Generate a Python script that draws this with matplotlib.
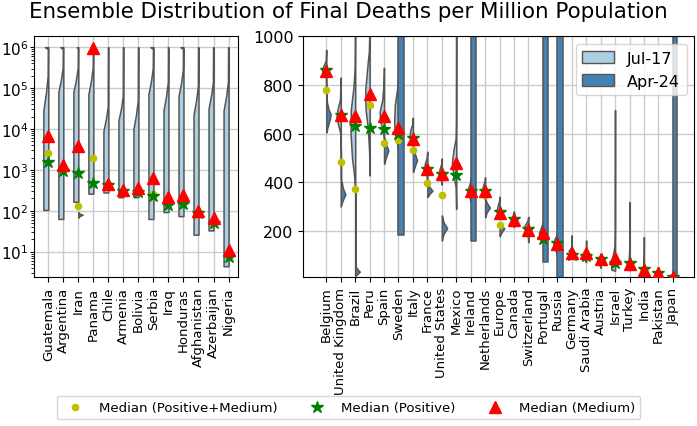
#! /usr/bin/env python3

import matplotlib
matplotlib.use('Agg')
import matplotlib.pyplot as plt
from matplotlib.patches import Patch
from matplotlib.lines import Line2D

LIGHT = "#aecde0"
DARK = "#4581b3"
EDGE = "#555555"

# ---- left panel (log scale) ----
left_countries = ["Guatemala", "Argentina", "Iran", "Panama", "Chile", "Armenia", "Bolivia",
                  "Serbia", "Iraq", "Honduras", "Afghanistan", "Azerbaijan", "Nigeria"]
# Jul-17 violins: lowest value, end of full width (log10), start of thin tail (log10), top hook width
left_min = [105, 63, 166, 262, 280, 215, 215, 63, 93, 74, 26, 33, 4.4]
left_taper_lo = [4.45, 4.9, 4.9, 4.85, 3.95, 4.2, 4.0, 4.85, 4.45, 4.8, 4.35, 4.5, 4.45]
left_taper_hi = [5.3, 5.5, 5.5, 5.5, 4.55, 4.8, 4.7, 5.5, 5.15, 5.45, 5.05, 5.15, 5.15]
left_hook = [0.22, 0.2, 0.1, 0.03, 0.03, 0.03, 0.03, 0.2, 0.05, 0.2, 0.03, 0.03, 0.03]
left_top = 1e6
# Apr-24 half visible only for Iran
iran_apr = [(68, 0.01), (75, 0.1), (80, 0.28), (84, 0.1), (92, 0.01)]

left_med_pm = [2600, 1150, 129, 1940, 440, 305, 320, 258, 160, 190, 95, 55, 8.5]
left_med_pos = [1590, 915, 830, 465, 430, 300, 280, 225, 142, 145, 87, 50, 7.3]
left_med_med = [6600, 1320, 3790, 960000, 455, 318, 360, 630, 214, 240, 100, 66, 11.2]

# ---- right panel (linear scale) ----
right_countries = ["Belgium", "United Kingdom", "Brazil", "Peru", "Spain", "Sweden", "Italy",
                   "France", "United States", "Mexico", "Ireland", "Netherlands", "Europe",
                   "Canada", "Switzerland", "Portugal", "Russia", "Germany", "Saudi Arabia",
                   "Austria", "Israel", "Turkey", "India", "Pakistan", "Japan"]

# (value, half width) outlines
jul17 = {
    "Belgium": [(775, 0.01), (830, 0.03), (845, 0.18), (860, 0.3), (878, 0.2), (900, 0.04), (944, 0.01)],
    "United Kingdom": [(545, 0.01), (600, 0.03), (630, 0.15), (665, 0.3), (700, 0.22), (740, 0.05), (830, 0.01)],
    "Brazil": [(373, 0.01), (420, 0.06), (500, 0.22), (600, 0.32), (700, 0.3), (790, 0.12), (870, 0.03), (1050, 0.01)],
    "Peru": [(428, 0.01), (520, 0.03), (620, 0.12), (700, 0.28), (780, 0.3), (860, 0.18), (940, 0.05), (1050, 0.01)],
    "Spain": [(580, 0.01), (615, 0.06), (650, 0.28), (690, 0.3), (740, 0.12), (800, 0.04), (870, 0.01)],
    "Sweden": [(520, 0.01), (560, 0.1), (600, 0.25), (650, 0.3), (720, 0.25), (790, 0.08), (870, 0.01)],
    "Italy": [(555, 0.01), (575, 0.1), (600, 0.22), (620, 0.15), (640, 0.04), (665, 0.01)],
    "France": [(400, 0.01), (430, 0.06), (455, 0.2), (475, 0.18), (500, 0.05), (525, 0.01)],
    "United States": [(390, 0.01), (415, 0.08), (435, 0.2), (455, 0.15), (475, 0.04), (497, 0.01)],
    "Mexico": [(290, 0.01), (380, 0.04), (430, 0.2), (480, 0.3), (530, 0.2), (580, 0.04), (650, 0.02), (1050, 0.01)],
    "Ireland": [(318, 0.01), (340, 0.08), (360, 0.22), (380, 0.15), (400, 0.04), (420, 0.01)],
    "Netherlands": [(330, 0.01), (345, 0.08), (365, 0.22), (385, 0.15), (405, 0.04), (420, 0.01)],
    "Europe": [(250, 0.01), (265, 0.08), (285, 0.2), (305, 0.12), (325, 0.03), (340, 0.01)],
    "Canada": [(215, 0.01), (230, 0.1), (248, 0.25), (262, 0.1), (280, 0.01)],
    "Switzerland": [(153, 0.01), (180, 0.05), (200, 0.22), (220, 0.28), (240, 0.08), (257, 0.01)],
    "Portugal": [(155, 0.01), (170, 0.12), (190, 0.28), (210, 0.15), (230, 0.03), (240, 0.01)],
    "Russia": [(98, 0.01), (115, 0.1), (140, 0.28), (165, 0.2), (185, 0.04), (200, 0.01)],
    "Germany": [(95, 0.01), (105, 0.12), (118, 0.22), (130, 0.06), (150, 0.02), (181, 0.01)],
    "Saudi Arabia": [(71, 0.01), (85, 0.15), (100, 0.22), (112, 0.08), (130, 0.02), (160, 0.01)],
    "Austria": [(48, 0.01), (65, 0.1), (80, 0.22), (92, 0.06), (103, 0.01)],
    "Israel": [(36, 0.01), (40, 0.25), (70, 0.3), (100, 0.15), (140, 0.03), (200, 0.015), (696, 0.01)],
    "Turkey": [(38, 0.01), (50, 0.15), (65, 0.22), (80, 0.06), (120, 0.02), (318, 0.01)],
    "India": [(22, 0.01), (30, 0.15), (40, 0.2), (55, 0.04), (100, 0.015), (174, 0.01)],
    "Pakistan": [(12, 0.01), (20, 0.15), (28, 0.2), (38, 0.05), (50, 0.01)],
}
apr24 = {
    "Belgium": [(605, 0.01), (625, 0.08), (660, 0.25), (680, 0.3), (700, 0.15), (730, 0.04), (770, 0.01)],
    "United Kingdom": [(300, 0.01), (320, 0.1), (350, 0.32), (375, 0.15), (410, 0.03), (545, 0.01)],
    "Brazil": [(15, 0.01), (22, 0.15), (32, 0.32), (42, 0.15), (55, 0.02), (373, 0.01)],
    "Spain": [(476, 0.01), (500, 0.12), (530, 0.3), (555, 0.15), (580, 0.02)],
    "Sweden": [(181, 0.37), (1100, 0.37)],
    "Italy": [(442, 0.01), (460, 0.1), (490, 0.28), (520, 0.12), (552, 0.01)],
    "France": [(339, 0.01), (350, 0.12), (365, 0.35), (380, 0.15), (398, 0.01)],
    "United States": [(160, 0.01), (185, 0.1), (211, 0.37), (235, 0.12), (263, 0.01)],
    "Ireland": [(160, 0.37), (1100, 0.37)],
    "Netherlands": [(256, 0.01), (275, 0.1), (295, 0.33), (315, 0.12), (330, 0.01)],
    "Europe": [(178, 0.01), (195, 0.15), (210, 0.33), (220, 0.1), (230, 0.01)],
    "Canada": [(220, 0.01), (235, 0.15), (245, 0.2), (255, 0.05), (265, 0.01)],
    "Switzerland": [(180, 0.01), (192, 0.15), (205, 0.2), (215, 0.05), (225, 0.01)],
    "Portugal": [(73, 0.37), (1100, 0.37)],
    "Russia": [(5, 0.37), (1100, 0.37)],
    "Germany": [(92, 0.01), (100, 0.1), (110, 0.05), (118, 0.01)],
    "Japan": [(5, 0.3), (1100, 0.3)],
}

right_med_pm = [777, 483, 373, 717, 562, 575, 531, 398, 346, 465, 358, 346, 222, 244, 203,
                178, 140, 104, 104, 84, 75, 65, 41, 28, 10]
right_med_pos = [862, 678, 630, 621, 618, 600, 580, 455, 434, 428, 364, 365, 277, 247, 206,
                 167, 148, 101, 98, 85, 67, 66, 42, 28, 10]
right_med_med = [858, 677, 673, 762, 671, 623, 579, 453, 432, 479, 362, 362, 275, 245, 204,
                 192, 146, 108, 108, 83, 89, 64, 40, 27, 10]


def draw_half(ax, pos, knots, side, color):
    vals = [k[0] for k in knots]
    widths = [k[1] for k in knots]
    if side == "left":
        xs = [pos - w for w in widths]
    else:
        xs = [pos + w for w in widths]
    ax.fill_betweenx(vals, xs, pos, facecolor=color, edgecolor=EDGE, linewidth=1.1, zorder=2)


def left_knots(i):
    lo = 10 ** left_taper_lo[i]
    hi = 10 ** left_taper_hi[i]
    mid = 10 ** ((left_taper_lo[i] + left_taper_hi[i]) / 2)
    return [(left_min[i], 0.33), (lo, 0.33), (mid, 0.16), (hi, 0.04),
            (0.9 * left_top, 0.03), (left_top, left_hook[i])]


def draw_medians(ax, pm, pos_, med):
    xs = list(range(len(pm)))
    ax.plot(xs, pm, "o", color="y", ms=4.5, ls="none", zorder=4)
    ax.plot(xs, pos_, "*", color="green", ms=9, ls="none", zorder=5)
    ax.plot(xs, med, "^", color="red", ms=8, ls="none", zorder=6)


def style_axis(ax, names, ysize):
    ax.set_xticks(range(len(names)))
    ax.set_xticklabels(names, rotation=90, fontsize=9.5)
    ax.tick_params(axis="y", labelsize=ysize)
    ax.grid(True, color="#cccccc", linewidth=1.0)
    ax.set_axisbelow(True)


if __name__ == "__main__":
    fig = plt.figure(figsize=(6.97, 4.27), dpi=100)
    ax1 = fig.add_axes([0.0488, 0.349, 0.292, 0.5637])
    ax2 = fig.add_axes([0.435, 0.349, 0.5614, 0.5637])

    for i in range(len(left_countries)):
        draw_half(ax1, i, left_knots(i), "left", LIGHT)
    draw_half(ax1, left_countries.index("Iran"), iran_apr, "right", DARK)
    draw_medians(ax1, left_med_pm, left_med_pos, left_med_med)
    ax1.set_yscale("log")
    ax1.set_ylim(2.4, 1.85e6)
    ax1.set_xlim(-0.95, 12.6)
    style_axis(ax1, left_countries, 11)
    ax1.tick_params(axis="y", which="major", length=3, pad=1)
    ax1.tick_params(axis="y", which="minor", length=2)

    for i, name in enumerate(right_countries):
        if name in jul17:
            draw_half(ax2, i, jul17[name], "left", LIGHT)
        if name in apr24:
            draw_half(ax2, i, apr24[name], "right", DARK)
    draw_medians(ax2, right_med_pm, right_med_pos, right_med_med)
    ax2.set_ylim(10, 1000)
    ax2.set_yticks([200, 400, 600, 800, 1000])
    ax2.set_xlim(-1.6, 25.5)
    style_axis(ax2, right_countries, 11.5)

    ax2.legend(handles=[Patch(facecolor=LIGHT, edgecolor=EDGE, label="Jul-17"),
                        Patch(facecolor=DARK, edgecolor=EDGE, label="Apr-24")],
               loc="upper right", fontsize=11.5)

    handles = [Line2D([], [], marker="o", color="y", ls="none", ms=4.5,
                      label="Median (Positive+Medium)"),
               Line2D([], [], marker="*", color="green", ls="none", ms=9,
                      label="Median (Positive)"),
               Line2D([], [], marker="^", color="red", ls="none", ms=8,
                      label="Median (Medium)")]
    fig.legend(handles=handles, loc="lower center", ncol=3, fontsize=9.5,
               bbox_to_anchor=(0.5, 0.0), columnspacing=2.0)

    fig.suptitle("Ensemble Distribution of Final Deaths per Million Population",
                 fontsize=15.4, y=0.995)
    fig.savefig("out.png", dpi=100)
    print("Plot successful.")
